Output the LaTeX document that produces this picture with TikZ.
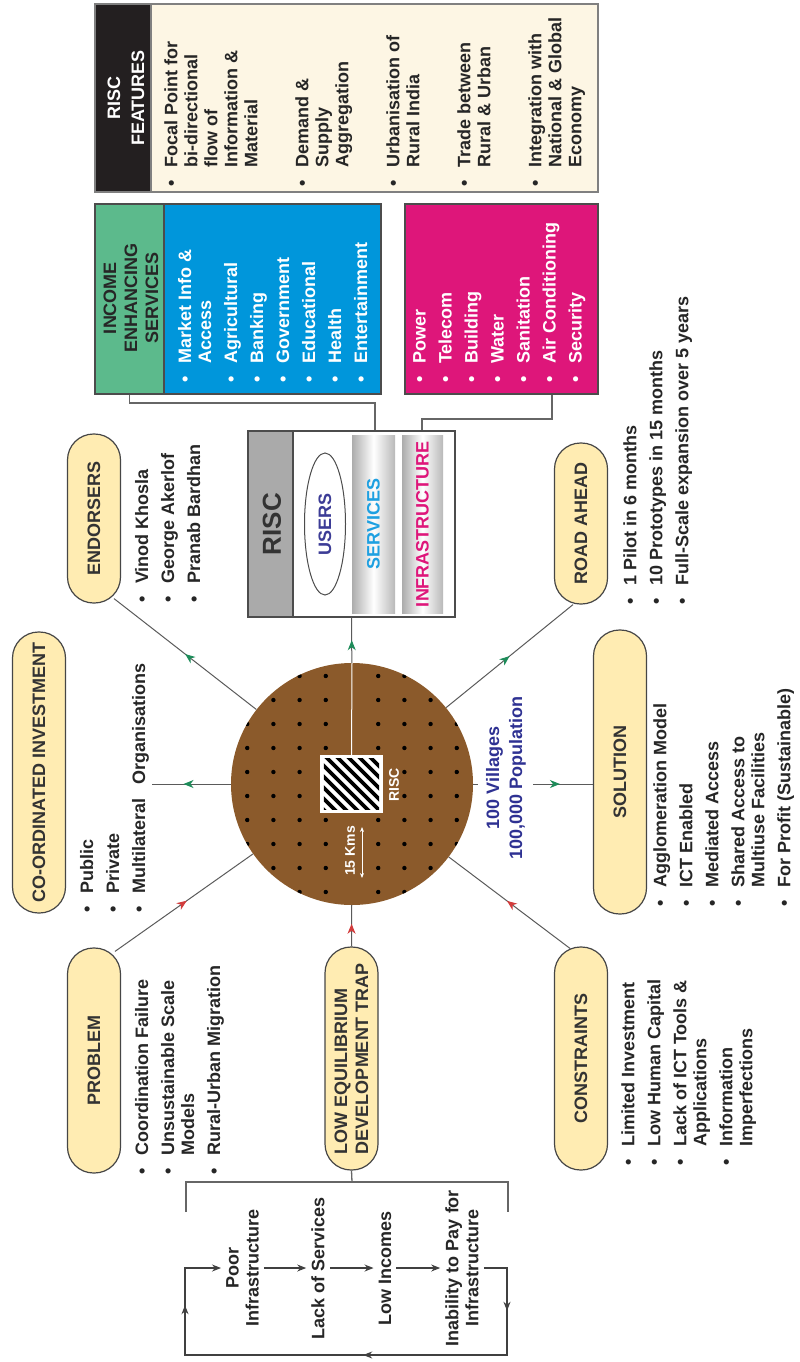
\documentclass[tikz,border=0pt]{standalone}
\usepackage{fontspec}
\setmainfont{Liberation Sans}
\usetikzlibrary{shapes.geometric,arrows.meta,decorations.markings,calc}

\definecolor{pillfill}{RGB}{255,236,178}
\definecolor{pillline}{RGB}{70,70,70}
\definecolor{linegray}{RGB}{90,90,90}
\definecolor{hubbrown}{RGB}{139,90,43}
\definecolor{svcgreen}{RGB}{92,186,140}
\definecolor{svcblue}{RGB}{0,150,219}
\definecolor{infmag}{RGB}{222,22,122}
\definecolor{featcream}{RGB}{253,246,228}
\definecolor{featblack}{RGB}{35,31,32}
\definecolor{arrgreen}{RGB}{30,140,90}
\definecolor{arrred}{RGB}{210,60,60}
\definecolor{popblue}{RGB}{46,49,146}
\definecolor{svctext}{RGB}{30,160,225}
\definecolor{usrblue}{RGB}{60,60,150}
\definecolor{riscgray}{RGB}{170,170,170}

\newcommand{\itm}{\makebox[19pt][l]{\textbullet}}
\newcommand{\ind}{\hspace*{19pt}}

\begin{document}
\begin{tikzpicture}[
  x=1pt, y=-1pt,
  txt/.style={rotate=90, inner sep=0pt, align=left, font=\fontsize{18}{20}\selectfont\bfseries, text=black!85},
  lst/.style={txt, anchor=north west},
  pill/.style={rectangle, rounded corners=26pt, rotate=90, draw=pillline, line width=1.2pt, fill=pillfill,
    minimum height=53pt, inner sep=0pt, align=center, font=\fontsize{18}{21}\selectfont\bfseries, text=black!80},
  box/.style={rectangle, draw=black!70, line width=1.2pt, inner sep=0pt},
  spoke/.style={draw=linegray, line width=1pt},
  link/.style={draw=black!60, line width=1.3pt},
  outarr/.style={postaction={decorate}, decoration={markings,
    mark=at position #1 with {\arrow{Stealth[length=10pt,width=8pt,inset=3pt,color=arrgreen]}}}},
  inarr/.style={postaction={decorate}, decoration={markings,
    mark=at position #1 with {\arrow{Stealth[length=10pt,width=8pt,inset=3pt,color=arrred]}}}},
  cyc/.style={draw=black!75, line width=1.2pt},
  cyctxt/.style={txt, align=center, inner sep=5pt},
  loopmarks/.style={postaction={decorate}, decoration={markings,
    mark=at position 66pt with {\arrow{Stealth[length=9pt,width=7pt]}},
    mark=at position 254pt with {\arrow{Stealth[length=9pt,width=7pt]}},
    mark=at position 482pt with {\arrow{Stealth[length=9pt,width=7pt]}}}}
]
\useasboundingbox (0,0) rectangle (800,1362);

  % Caracteristicas RISC
  \node[box, draw=black!50, line width=1.8pt, fill=featcream, minimum width=503pt, minimum height=188pt] (feat) at (346.5,98) {};
  \node[box, draw=black!50, line width=1.8pt, fill=featblack, minimum width=56pt, minimum height=188pt] (feathd) at (123,98) {};
  \node[txt, align=center, text=white, font=\fontsize{18}{24}\selectfont\bfseries] (feattitle) at (126,98) {RISC\\FEATURES};
  \node[lst] (featlist) at (164,187) {\itm Focal Point for\\ \ind bi-directional\\ \ind flow of\\ \ind Information \&\\ \ind Material\\[31pt]
    \itm Demand \&\\ \ind Supply\\ \ind Aggregation\\[31pt]
    \itm Urbanisation of\\ \ind Rural India\\[31pt]
    \itm Trade between\\ \ind Rural \& Urban\\[31pt]
    \itm Integration with\\ \ind National \& Global\\ \ind Economy};

  % Servicios e infraestructura
  \node[box, fill=svcgreen, minimum width=69pt, minimum height=190pt] (igreen) at (129.5,299) {};
  \node[box, fill=svcblue, minimum width=217pt, minimum height=190pt] (iblue) at (272.5,299) {};
  \node[txt, align=center, font=\fontsize{18}{21}\selectfont\bfseries] (ititle) at (131,298) {INCOME\\ENHANCING\\SERVICES};
  \node[lst, text=white] (ilist) at (178,383) {\itm Market Info \&\\ \ind Access\\[6pt] \itm Agricultural\\[6pt] \itm Banking\\[6pt]
    \itm Government\\[6pt] \itm Educational\\[6pt] \itm Health\\[6pt] \itm Entertainment};
  \node[box, fill=infmag, minimum width=193pt, minimum height=190pt] (ired) at (501.5,299) {};
  \node[lst, text=white] (rlist) at (413,383) {\itm Power\\[6pt] \itm Telecom\\[6pt] \itm Building\\[6pt] \itm Water\\[6pt]
    \itm Sanitation\\[6pt] \itm Air Conditioning\\[6pt] \itm Security};

  % Edificio RISC
  \node[box, fill=white, minimum width=207pt, minimum height=186pt] (risc) at (351.5,524) {};
  \node[box, fill=riscgray, minimum width=45pt, minimum height=186pt] (risclab) at (270.5,524) {};
  \node[txt, font=\fontsize{26}{26}\selectfont\bfseries, text=black!80] (risctxt) at (272,524) {RISC};
  \shade[left color=gray!65, right color=gray!55, middle color=white] (352,435) rectangle (395,613);
  \shade[left color=gray!65, right color=gray!55, middle color=white] (402,435) rectangle (443,613);
  \node[ellipse, draw=black!70, line width=1pt, rotate=90, minimum width=142pt, minimum height=41pt, inner sep=0pt,
    font=\fontsize{18}{20}\selectfont\bfseries, text=usrblue] (users) at (325,524) {USERS};
  \node[txt, text=svctext] (svc) at (373.5,524) {SERVICES};
  \node[txt, text=infmag] (infra) at (422.5,524) {INFRASTRUCTURE};

  % Conexiones de las cajas al RISC
  \coordinate (t1) at (375,403);
  \coordinate (t2) at (552,419);
  \coordinate (t3) at (422,419);
  \draw[link] (igreen.south) |- (t1) -- (t1 |- risc.north);
  \draw[link] (ired.south -| t2) -- (t2) -- (t3) -- (t3 |- risc.north);

  % Circulo de aldeas
  \node[circle, fill=hubbrown, minimum size=242pt, inner sep=0pt] (hub) at (352,784) {};
  \begin{scope}
    \clip (hub.center) circle (121pt);
    \foreach \i in {-4,-3,-2,-1,1,2,3,4}
      \foreach \j in {-5,...,4}
        \fill[black] (352+26.2*\i, 796+24*\j) circle (2.2pt);
  \end{scope}
  \node[rectangle, fill=white, minimum width=63pt, minimum height=58pt, inner sep=0pt] (sq) at (351.5,784) {};
  \begin{scope}
    \clip ([shift={(4pt,4pt)}]sq.south west) rectangle ([shift={(-4pt,-4pt)}]sq.north east);
    \foreach \k in {0,...,10}
      \draw[line width=3.8pt] (254+11*\k,740) -- (344+11*\k,830);
  \end{scope}
  \draw[white, line width=1pt] (sq.north) -- (hub.north);
  \node[txt, font=\fontsize{14}{14}\selectfont\bfseries, text=white] (hubrisc) at (394,785) {RISC};
  \node[txt, font=\fontsize{14}{14}\selectfont\bfseries, text=white] (kms) at (350,851) {15 Kms};
  \coordinate (ka) at (362,827);
  \coordinate (kb) at (362,878);
  \draw[white, line width=0.8pt, {Stealth[length=5pt,width=4pt]}-{Stealth[length=5pt,width=4pt]}] (ka) -- (kb);
  \node[txt, align=center, text=popblue, font=\fontsize{18}{23}\selectfont\bfseries] (pop) at (506,778) {100 Villages\\100,000 Population};

  % Etiquetas
  \node[pill, minimum width=169pt] (endorse) at (94,518.5) {ENDORSERS};
  \node[pill, minimum width=281pt] (coinv) at (39,772.5) {CO-ORDINATED INVESTMENT};
  \node[pill, minimum width=225pt] (problem) at (94,1060.5) {PROBLEM};
  \node[pill, minimum width=223pt, align=left] (loweq) at (351.5,1058.5) {LOW EQUILIBRIUM\\DEVELOPMENT TRAP};
  \node[pill, minimum width=223pt] (constr) at (581,1058.5) {CONSTRAINTS};
  \node[pill, minimum width=284pt] (solution) at (620,772) {SOLUTION};
  \node[pill, minimum width=161pt] (road) at (581,523.5) {ROAD AHEAD};

  % Listas
  \node[lst] (endlist) at (135,603) {\itm Vinod Khosla\\[6pt] \itm George Akerlof\\[6pt] \itm Pranab Bardhan};
  \node[lst] (colist) at (80,913) {\itm Public\\[6pt] \itm Private\\[6pt] \itm Multilateral\hspace{14pt}Organisations};
  \node[lst] (problist) at (135,1175) {\itm Coordination Failure\\[6pt] \itm Unsustainable Scale\\ \ind Models\\[6pt] \itm Rural-Urban Migration};
  \node[lst] (conlist) at (621,1166) {\itm Limited Investment\\[6pt] \itm Low Human Capital\\[6pt] \itm Lack of ICT Tools \&\\ \ind Applications\\[6pt]
    \itm Information\\ \ind Imperfections};
  \node[lst] (sollist) at (653,907) {\itm Agglomeration Model\\[6pt] \itm ICT Enabled\\[6pt] \itm Mediated Access\\[6pt]
    \itm Shared Access to\\ \ind Multiuse Facilities\\[6pt] \itm For Profit (Sustainable)};
  \node[lst] (roadlist) at (623,605) {\itm 1 Pilot in 6 months\\[6pt] \itm 10 Prototypes in 15 months\\[6pt] \itm Full-Scale expansion over 5 years};

  % Radios del circulo
  \coordinate (coend) at (152,784);
  \coordinate (hubtick) at (478,784);
  \coordinate (solbeg) at (533,784);
  \draw[spoke, outarr=0.5] (hub) -- (risc);
  \draw[spoke, outarr=0.6] (hub) -- (coend);
  \draw[spoke, outarr=0.5] (hub) -- ([xshift=20pt,yshift=5pt]endorse.west);
  \draw[spoke, outarr=0.5] (hub) -- ([xshift=-8pt]road.west);
  \draw[spoke] (hub) -- (hubtick);
  \draw[spoke, outarr=0.45] (solbeg) -- (solbeg -| solution.north);
  \draw[spoke, inarr=0.52] ([xshift=21pt,yshift=-4pt]problem.east) -- (hub);
  \draw[spoke, inarr=0.55] (loweq.east) -- (hub);
  \draw[spoke, inarr=0.52] ([xshift=-11pt,yshift=-2pt]constr.east) -- (hub);

  % Trampa de bajo equilibrio
  \coordinate (bt) at (352,1182);
  \coordinate (bl) at (186,1212);
  \coordinate (br) at (508,1212);
  \draw[link] (bl) |- (bt) -| (br);
  \draw[link] (loweq.west) -- (bt);

  \node[cyctxt] (poor) at (242.5,1268) {Poor\\Infrastructure};
  \node[cyctxt] (lack) at (318,1268) {Lack of Services};
  \node[cyctxt] (lowinc) at (385,1268) {Low Incomes};
  \node[cyctxt] (inab) at (462,1268) {Inability to Pay for\\Infrastructure};

  \draw[cyc, -{Stealth[length=9pt,width=7pt]}] (poor) -- (lack);
  \draw[cyc, -{Stealth[length=9pt,width=7pt]}] (lack) -- (lowinc);
  \draw[cyc, -{Stealth[length=9pt,width=7pt]}] (lowinc) -- (inab);
  \coordinate (lpr) at (507,1355);
  \coordinate (lpl) at (185,1355);
  \draw[cyc, loopmarks, -{Stealth[length=9pt,width=7pt]}] (inab) -| (lpr) -- (lpl) |- (poor);
\end{tikzpicture}
\end{document}
